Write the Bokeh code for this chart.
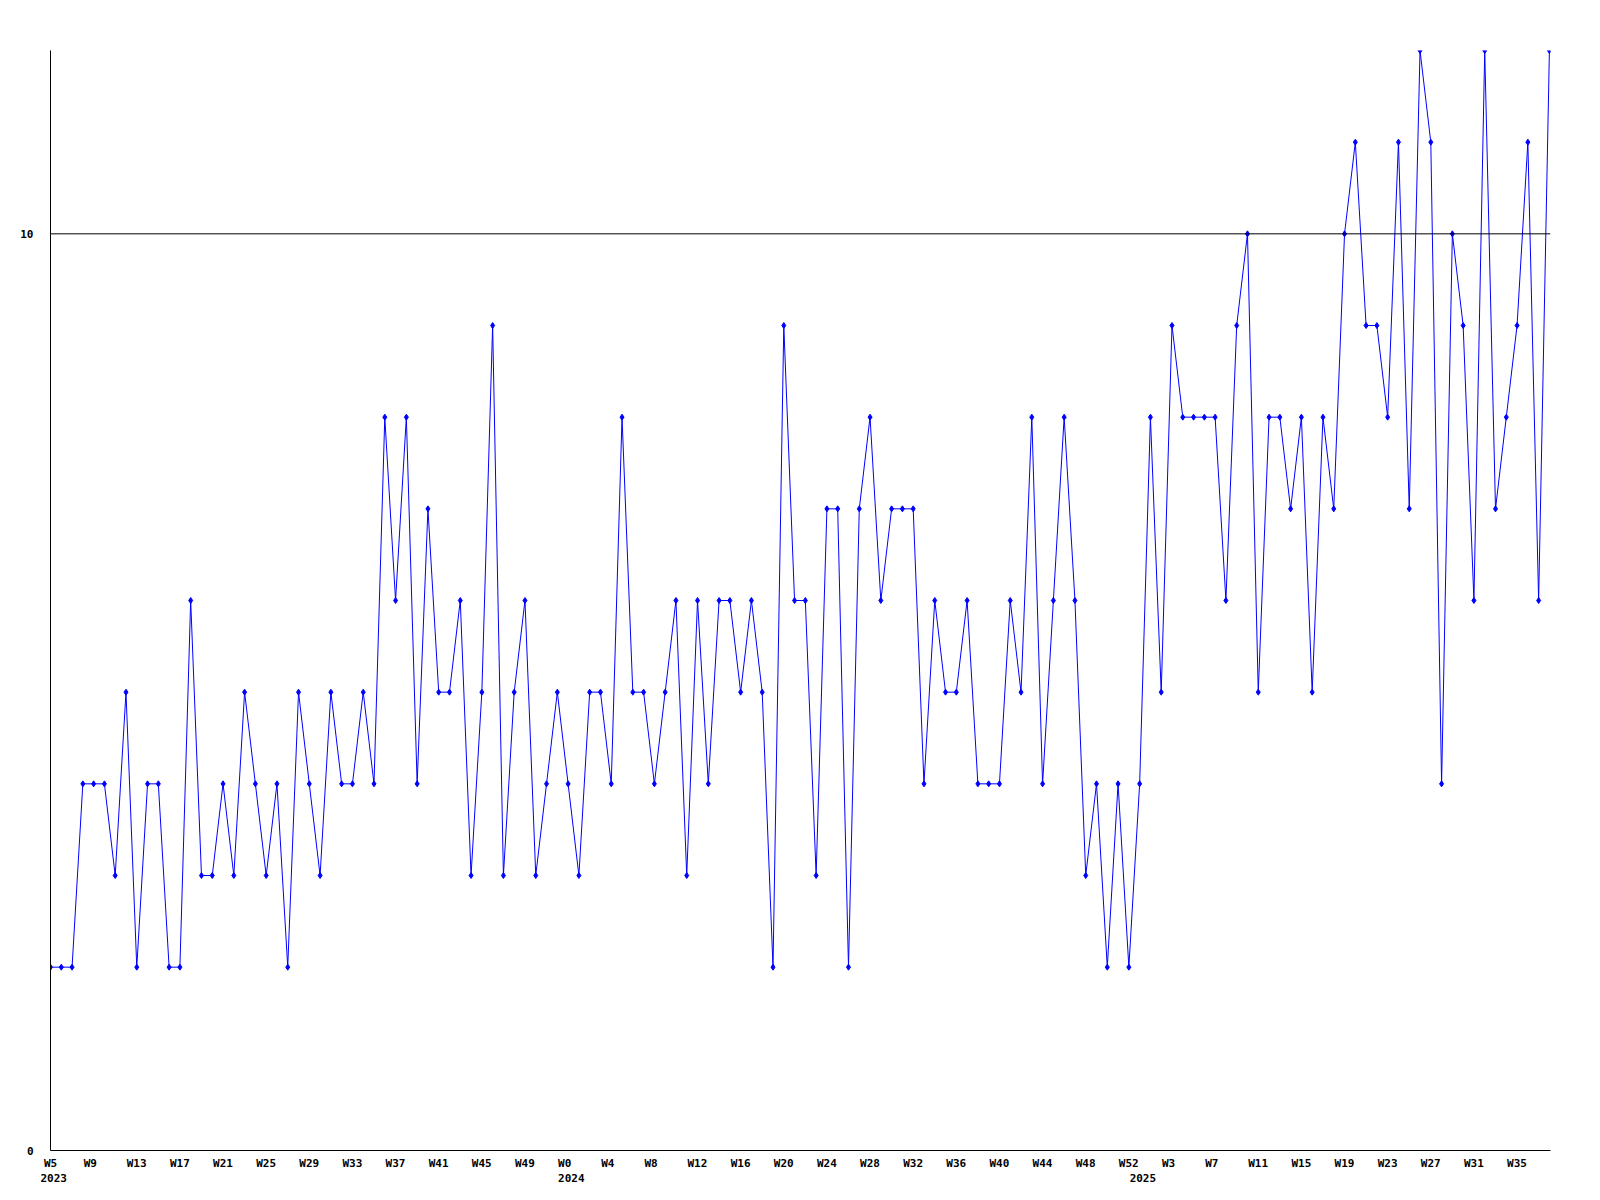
from bokeh.plotting import figure
from bokeh.models import Range1d, FixedTicker, LinearAxis, Span
from bokeh.embed import file_html
from bokeh.resources import INLINE

values = [2, 2, 2, 4, 4, 4, 3, 5, 2, 4, 4, 2, 2, 6, 3, 3, 4, 3, 5, 4,
          3, 4, 2, 5, 4, 3, 5, 4, 4, 5, 4, 8, 6, 8, 4, 7, 5, 5, 6, 3,
          5, 9, 3, 5, 6, 3, 4, 5, 4, 3, 5, 5, 4, 8, 5, 5, 4, 5, 6, 3,
          6, 4, 6, 6, 5, 6, 5, 2, 9, 6, 6, 3, 7, 7, 2, 7, 8, 6, 7, 7,
          7, 4, 6, 5, 5, 6, 4, 4, 4, 6, 5, 8, 4, 6, 8, 6, 3, 4, 2, 4,
          2, 4, 8, 5, 9, 8, 8, 8, 8, 6, 9, 10, 5, 8, 8, 7, 8, 5, 8, 7,
          10, 11, 9, 9, 8, 11, 7, 12, 11, 4, 10, 9, 6, 12, 7, 8, 9, 11, 6, 12]
week_tick_index = [0, 4, 8, 12, 16, 20, 24, 28, 32, 36, 40, 44, 48, 52, 56, 60, 64, 68,
                   72, 76, 80, 84, 88, 92, 96, 100, 104, 108, 112, 116, 120, 124, 128, 132, 136]
week_tick_labels = ["W5", "W9", "W13", "W17", "W21", "W25", "W29", "W33", "W37", "W41",
                    "W45", "W49", "W0", "W4", "W8", "W12", "W16", "W20", "W24", "W28",
                    "W32", "W36", "W40", "W44", "W48", "W52", "W3", "W7", "W11", "W15",
                    "W19", "W23", "W27", "W31", "W35"]
year_tick_index = [0, 48, 101]
year_tick_labels = ["2023", "2024", "2025"]
y_tick_values = [0, 10]
y_tick_labels = ["0", "10"]

xs = list(range(len(values)))
FONT = "DejaVu Sans Mono"
FRAME_W = 1500
X_END = len(values) - 1 + 0.1
PX_PER_UNIT = FRAME_W / X_END
CHAR_W = 6.62  # bold mono 11px advance

p = figure(width=1580, height=1192, output_backend="svg", toolbar_location=None,
           x_range=Range1d(0, X_END), y_range=Range1d(0, 12),
           x_axis_location=None, y_axis_location=None,
           min_border_left=50, min_border_right=30, min_border_top=50, min_border_bottom=42)
p.outline_line_color = None
p.xgrid.visible = False
p.ygrid.visible = False
p.background_fill_color = "white"
p.border_fill_color = "white"

def style_axis(ax, standoff):
    ax.major_tick_in = 0
    ax.major_tick_out = 0
    ax.minor_tick_in = 0
    ax.minor_tick_out = 0
    ax.major_label_standoff = standoff
    ax.major_label_text_font = FONT
    ax.major_label_text_font_style = "bold"
    ax.major_label_text_font_size = "11px"
    ax.major_label_text_color = "black"
    ax.axis_line_color = "black"
    ax.axis_line_width = 1

def left_aligned_pos(idx, label):
    # the original starts each label ~10px left of its point
    return max(idx + (-10 + len(label) * CHAR_W / 2) / PX_PER_UNIT, 0)

# y axis
yax = LinearAxis(ticker=FixedTicker(ticks=y_tick_values),
                 major_label_overrides={v: s for v, s in zip(y_tick_values, y_tick_labels)})
style_axis(yax, 17)
p.add_layout(yax, "left")

# week labels
wk_pos = [left_aligned_pos(i, s) for i, s in zip(week_tick_index, week_tick_labels)]
xax = LinearAxis(ticker=FixedTicker(ticks=wk_pos),
                 major_label_overrides={pos: s for pos, s in zip(wk_pos, week_tick_labels)})
style_axis(xax, 6)
p.add_layout(xax, "below")

# year labels
yr_pos = [left_aligned_pos(i, s) for i, s in zip(year_tick_index, year_tick_labels)]
yrax = LinearAxis(ticker=FixedTicker(ticks=yr_pos),
                  major_label_overrides={pos: s for pos, s in zip(yr_pos, year_tick_labels)})
style_axis(yrax, 1)
yrax.axis_line_color = None
p.add_layout(yrax, "below")

p.add_layout(Span(location=10, dimension="width", line_color="black", line_width=1))

p.line(xs, values, line_color="#0000ff", line_width=1)
p.scatter(xs, values, marker="diamond", size=6, color="#0000ff")

open("out.html", "w").write(file_html(p, INLINE))
